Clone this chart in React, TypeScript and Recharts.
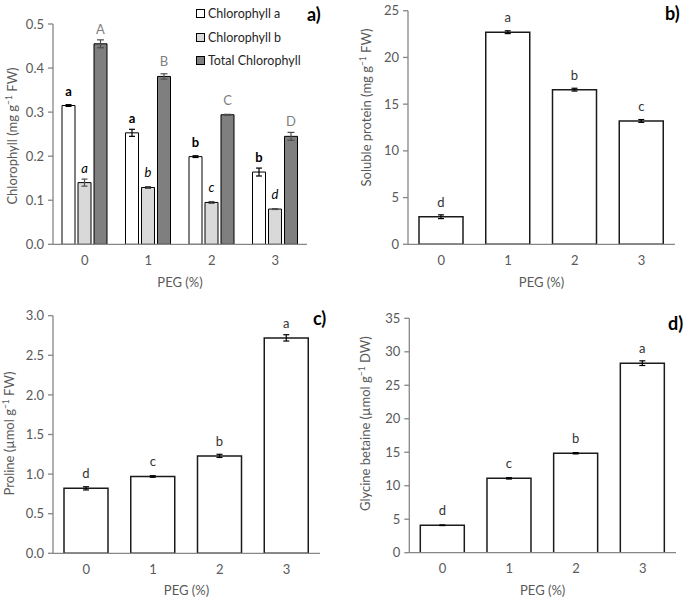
import React from 'react';
import { BarChart, Bar, XAxis, YAxis, ErrorBar, LabelList, Legend } from 'recharts';

// ---------- data ----------
const pegLevels = ['0', '1', '2', '3'];

const chlA = [0.315, 0.253, 0.199, 0.164];
const chlAErr = [0.002, 0.008, 0.002, 0.009];
const chlALetters = ['a', 'a', 'b', 'b'];
const chlB = [0.14, 0.129, 0.095, 0.08];
const chlBErr = [0.008, 0.002, 0.002, 0.001];
const chlBLetters = ['a', 'b', 'c', 'd'];
const totalChl = [0.455, 0.381, 0.294, 0.245];
const totalChlErr = [0.009, 0.006, 0.001, 0.009];
const totalChlLetters = ['A', 'B', 'C', 'D'];

const protein = [2.95, 22.7, 16.55, 13.2];
const proteinErr = [0.2, 0.15, 0.15, 0.15];
const proteinLetters = ['d', 'a', 'b', 'c'];

const proline = [0.82, 0.97, 1.23, 2.72];
const prolineErr = [0.02, 0.01, 0.02, 0.04];
const prolineLetters = ['d', 'c', 'b', 'a'];

const betaine = [4.1, 11.1, 14.85, 28.3];
const betaineErr = [0.05, 0.1, 0.1, 0.35];
const betaineLetters = ['d', 'c', 'b', 'a'];

const ticksChl = [0, 0.1, 0.2, 0.3, 0.4, 0.5];
const ticksProtein = [0, 5, 10, 15, 20, 25];
const ticksProline = [0, 0.5, 1, 1.5, 2, 2.5, 3];
const ticksBetaine = [0, 5, 10, 15, 20, 25, 30, 35];
const edgeTicks = [0, 1, 2, 3, 4];

const seriesNames = ['Chlorophyll a', 'Chlorophyll b', 'Total Chlorophyll'];

// ---------- styles ----------
const FONT = 'Lato, "Open Sans", sans-serif';
const AXIS = '#868686';
const TXT = '#595959';

const chlData = pegLevels.map((p, i) => ({
  peg: p,
  a: chlA[i], aE: chlAErr[i], aL: chlALetters[i],
  b: chlB[i], bE: chlBErr[i], bL: chlBLetters[i],
  t: totalChl[i], tE: totalChlErr[i], tL: totalChlLetters[i],
}));

const mk = (vals: number[], errs: number[], letters: string[]) =>
  pegLevels.map((p, i) => ({ peg: p, v: vals[i], e: errs[i], l: letters[i] }));

const letterContent = (style: any) => (props: any) => {
  const { x, y, width, value } = props;
  return (
    <text x={Number(x) + Number(width) / 2} y={Number(y) - 10} textAnchor="middle"
      fontFamily={FONT} fontSize={13} {...style}>{value}</text>
  );
};

function Titles({ yTitle, ySup, yTail, yx, yy, xx, xy, tag, tx, ty }: any) {
  return (
    <svg width="100%" height="100%" style={{ position: 'absolute', left: 0, top: 0, pointerEvents: 'none' }}>
      <text transform={`rotate(-90 ${yx} ${yy})`} x={yx} y={yy} textAnchor="middle"
        fontFamily={FONT} fontSize={13} fill={TXT}>
        {yTitle}<tspan dy={-5} fontSize={8.5}>{ySup}</tspan><tspan dy={5}>{yTail}</tspan>
      </text>
      <text x={xx} y={xy} textAnchor="middle" fontFamily={FONT} fontSize={13} fill={TXT}>PEG (%)</text>
      <text x={tx} y={ty} fontFamily={FONT} fontSize={18} fontWeight={700} fill="#000">{tag}</text>
    </svg>
  );
}

const catAxis = (
  <XAxis xAxisId="cat" dataKey="peg" tickLine={false} tickSize={0} tickMargin={11.5}
    axisLine={{ stroke: AXIS, strokeWidth: 1.3 }} tick={{ fill: TXT, fontSize: 13, fontFamily: FONT }} height={40} />
);
const edgeAxis = (
  <XAxis xAxisId="edge" type="number" domain={[0, 4]} ticks={edgeTicks} tick={false} axisLine={false}
    tickLine={{ stroke: AXIS, strokeWidth: 1.3 }} tickSize={5} height={0} allowDataOverflow />
);

function yAxis(ticks: number[], width: number, digits: number) {
  return (
    <YAxis type="number" domain={[ticks[0], ticks[ticks.length - 1]]} ticks={ticks} width={width}
      tickFormatter={(v: number) => v.toFixed(digits)} tickSize={5} tickMargin={4}
      axisLine={{ stroke: AXIS, strokeWidth: 1.3 }} tickLine={{ stroke: AXIS, strokeWidth: 1.3 }}
      tick={{ fill: TXT, fontSize: 13, fontFamily: FONT }} allowDataOverflow />
  );
}

function LegendBox(props: any) {
  const payload = props.payload || [];
  return (
    <div style={{ fontFamily: FONT, fontSize: 12.5, color: '#262626' }}>
      {payload.map((p: any, i: number) => (
        <div key={i} style={{ display: 'flex', alignItems: 'center', height: 23.7 }}>
          <span style={{ display: 'inline-block', width: 7, height: 7, background: p.color,
            border: '1px solid #000', marginRight: 3 }} />
          <span>{p.value}</span>
        </div>
      ))}
    </div>
  );
}

function SinglePanel({ left, top, width, data, ticks, digits, margin, yWidth, titles }: any) {
  return (
    <div style={{ position: 'absolute', left, top, width, height: 300 }}>
      <BarChart width={width} height={300} data={data} margin={margin} barSize={44}>
        {edgeAxis}
        {catAxis}
        {yAxis(ticks, yWidth, digits)}
        <Bar dataKey="v" xAxisId="cat" fill="#fff" stroke="#1a1a1a" strokeWidth={1.5} isAnimationActive={false}>
          <ErrorBar dataKey="e" width={3} stroke="#000" strokeWidth={1.2} />
          <LabelList dataKey="l" content={letterContent({ fill: '#333' })} />
        </Bar>
      </BarChart>
      <Titles {...titles} />
    </div>
  );
}

export default function App() {
  return (
    <div style={{ position: 'absolute', left: 0, top: 0, width: 685, height: 600, background: '#fff' }}>
      {/* panel a */}
      <div style={{ position: 'absolute', left: 0, top: 0, width: 340, height: 300 }}>
        <BarChart width={340} height={300} data={chlData}
          margin={{ top: 24, right: 33, left: 0, bottom: 15.7 }} barSize={13} barGap={3}>
          {edgeAxis}
          {catAxis}
          {yAxis(ticksChl, 53, 1)}
          <Legend layout="vertical" align="center" verticalAlign="middle" content={<LegendBox />}
            wrapperStyle={{ position: 'absolute', left: 196, top: 1.5, width: 140 }} />
          <Bar dataKey="a" name={seriesNames[0]} xAxisId="cat" fill="#ffffff" stroke="#000" strokeWidth={1} isAnimationActive={false}>
            <ErrorBar dataKey="aE" width={3} stroke="#000" strokeWidth={1.2} />
            <LabelList dataKey="aL" content={letterContent({ fill: '#000', fontWeight: 700 })} />
          </Bar>
          <Bar dataKey="b" name={seriesNames[1]} xAxisId="cat" fill="#d9d9d9" stroke="#000" strokeWidth={1} isAnimationActive={false}>
            <ErrorBar dataKey="bE" width={3} stroke="#4d4d4d" strokeWidth={1.2} />
            <LabelList dataKey="bL" content={letterContent({ fill: '#000', fontStyle: 'italic' })} />
          </Bar>
          <Bar dataKey="t" name={seriesNames[2]} xAxisId="cat" fill="#7f7f7f" stroke="#000" strokeWidth={1} isAnimationActive={false}>
            <ErrorBar dataKey="tE" width={3.5} stroke="#4d4d4d" strokeWidth={1.2} />
            <LabelList dataKey="tL" content={letterContent({ fill: '#7f7f7f' })} />
          </Bar>
        </BarChart>
        <Titles yTitle="Chlorophyll (mg g" ySup="−1" yTail=" FW)" yx={16.5} yy={136}
          xx={180} xy={287} tag="a)" tx={307} ty={21} />
      </div>

      <SinglePanel left={340} top={0} width={345} data={mk(protein, proteinErr, proteinLetters)}
        ticks={ticksProtein} digits={0} yWidth={68}
        margin={{ top: 10.7, right: 10, left: 0, bottom: 15.7 }}
        titles={{ yTitle: 'Soluble protein (mg g', ySup: '−1', yTail: ' FW)', yx: 30.5, yy: 107.5,
          xx: 201.5, xy: 287, tag: 'b)', tx: 325, ty: 20 }} />

      <SinglePanel left={0} top={300} width={340} data={mk(proline, prolineErr, prolineLetters)}
        ticks={ticksProline} digits={1} yWidth={53}
        margin={{ top: 15.7, right: 20, left: 0, bottom: 6.7 }}
        titles={{ yTitle: 'Proline (µmol g', ySup: '−1', yTail: ' FW)', yx: 13.5, yy: 133.5,
          xx: 186.5, xy: 295, tag: 'c)', tx: 313, ty: 25 }} />

      <SinglePanel left={340} top={300} width={345} data={mk(betaine, betaineErr, betaineLetters)}
        ticks={ticksBetaine} digits={0} yWidth={69.3}
        margin={{ top: 18.3, right: 9, left: 0, bottom: 7.3 }}
        titles={{ yTitle: 'Glycine betaine (µmol g', ySup: '−1', yTail: ' DW)', yx: 30.5, yy: 123.7,
          xx: 202.7, xy: 295, tag: 'd)', tx: 328, ty: 30 }} />
    </div>
  );
}
